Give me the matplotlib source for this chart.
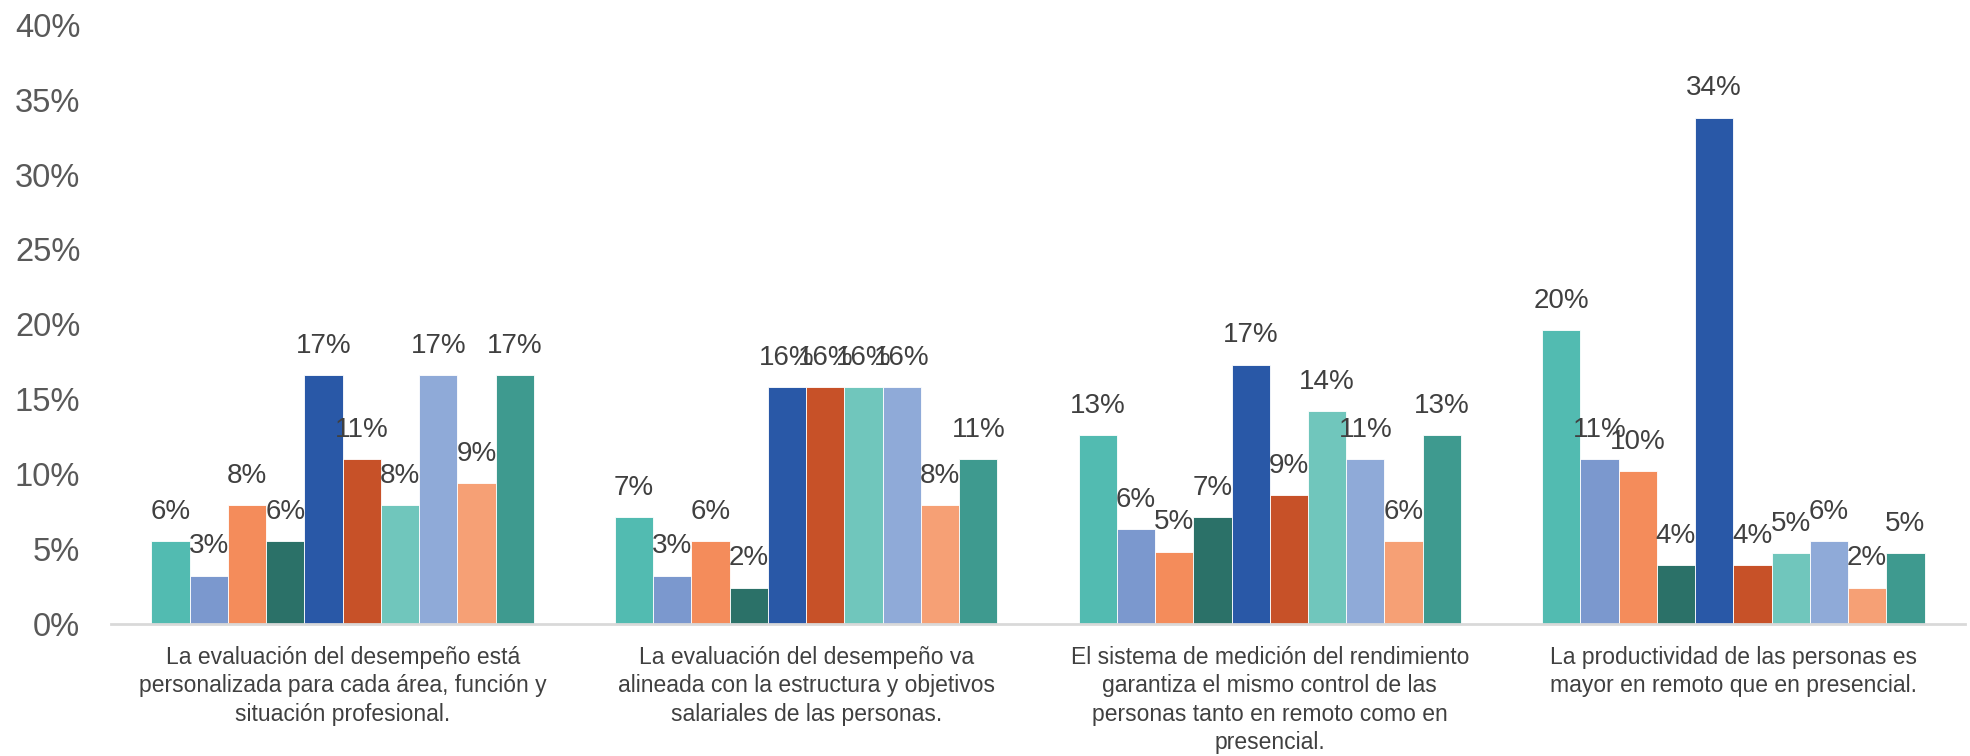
import matplotlib.pyplot as plt
import numpy as np

# Categories (x-axis labels)
categories = [
    "La evaluación del desempeño está\npersonalizada para cada área, función y\nsituación profesional.",
    "La evaluación del desempeño va\nalineada con la estructura y objetivos\nsalariales de las personas.",
    "El sistema de medición del rendimiento\ngarantiza el mismo control de las\npersonas tanto en remoto como en\npresencial.",
    "La productividad de las personas es\nmayor en remoto que en presencial.",
]

# Values (%) for the 10 series, one list per series across the 4 categories
s1 = [5.5, 7.1, 12.6, 19.6]
s2 = [3.2, 3.2, 6.3, 11.0]
s3 = [7.9, 5.5, 4.8, 10.2]
s4 = [5.5, 2.4, 7.1, 3.9]
s5 = [16.6, 15.8, 17.3, 33.8]
s6 = [11.0, 15.8, 8.6, 3.9]
s7 = [7.9, 15.8, 14.2, 4.7]
s8 = [16.6, 15.8, 11.0, 5.5]
s9 = [9.4, 7.9, 5.5, 2.4]
s10 = [16.6, 11.0, 12.6, 4.7]
series = [s1, s2, s3, s4, s5, s6, s7, s8, s9, s10]

colors = ["#52BBB1", "#7B98CE", "#F48C5B", "#2B7168", "#2958A7",
          "#C75128", "#70C6BC", "#8FAAD8", "#F6A075", "#3E9A8F"]

plt.rcParams['font.family'] = ['Liberation Sans', 'DejaVu Sans']

fig = plt.figure(figsize=(19.7, 7.56), dpi=100)
ax = fig.add_axes([0.0563, 0.175, 0.9412, 0.792])

n = len(series)
bw = 0.0825
x = np.arange(len(categories))
for i, (vals, c) in enumerate(zip(series, colors)):
    pos = x + (i - (n - 1) / 2) * bw
    ax.bar(pos, vals, width=bw, color=c, edgecolor="white", linewidth=0.6)
    for px, v in zip(pos, vals):
        ax.text(px, v + 1.1, f"{round(v)}%", ha="center", va="bottom",
                fontsize=20, color="#404040")

ax.set_xlim(-0.5, len(categories) - 0.5)
ax.set_ylim(0, 40)
ax.set_yticks(range(0, 41, 5))
ax.set_yticklabels([f"{t}%" for t in range(0, 41, 5)], fontsize=23.5, color="#595959")
ax.set_xticks(x)
ax.set_xticklabels(categories, fontsize=16.5, color="#404040", linespacing=1.3, va="top")
ax.tick_params(axis="both", length=0)
ax.tick_params(axis="x", pad=16)
ax.tick_params(axis="y", pad=22)

for s in ["top", "right", "left"]:
    ax.spines[s].set_visible(False)
ax.spines["bottom"].set_color("#D9D9D9")
ax.spines["bottom"].set_linewidth(2)

fig.savefig("out.png", dpi=100)
